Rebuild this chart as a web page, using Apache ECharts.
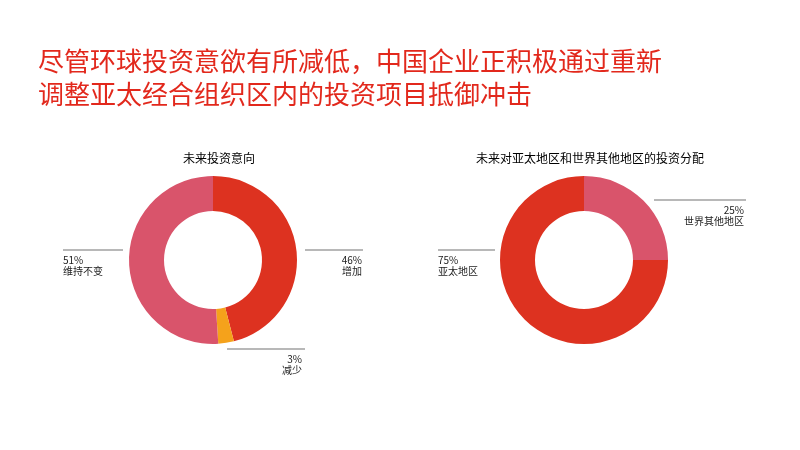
<!DOCTYPE html>
<html><head><meta charset="utf-8">
<script src="https://cdn.jsdelivr.net/npm/echarts@6/dist/echarts.min.js"></script>
<style>html,body{margin:0;padding:0;background:#fff}#c{width:800px;height:450px}</style>
</head><body><div id="c"></div>
<script>
const mainTitle = '尽管环球投资意欲有所减低，中国企业正积极通过重新\n调整亚太经合组织区内的投资项目抵御冲击';
const chart1Title = '未来投资意向';
const chart1Names = ['增加', '减少', '维持不变'];
const chart1Values = [46, 3, 51];
const chart2Title = '未来对亚太地区和世界其他地区的投资分配';
const chart2Names = ['世界其他地区', '亚太地区'];
const chart2Values = [25, 75];

const RED = '#dd3220', PINK = '#d9546b', ORANGE = '#f5a21b';
const chart1Colors = [RED, ORANGE, PINK];
const chart2Colors = [PINK, RED];

// label placements: [textX, textTopY, align, lineX1, lineX2, lineY]
const chart1Labels = [
  [362, 255, 'right', 305, 363, 250],
  [302, 354, 'right', 227, 305, 349],
  [63, 255, 'left', 63, 123, 250]
];
const chart2Labels = [
  [744, 205, 'right', 654, 746, 200],
  [438, 255, 'left', 438, 495, 250]
];

function mk(names, values, colors) {
  return names.map((n, i) => ({ name: n, value: values[i], itemStyle: { color: colors[i] } }));
}
function layoutFn(spec) {
  return function (p) {
    const s = spec[p.dataIndex];
    return {
      x: s[0], y: s[1], align: s[2], verticalAlign: 'top',
      labelLinePoints: [[s[3], s[5]], [(s[3] + s[4]) / 2, s[5]], [s[4], s[5]]]
    };
  };
}
const labelCommon = {
  show: true,
  formatter: '{c}%\n{b}',
  fontSize: 10,
  lineHeight: 11,
  color: '#222',
  fontFamily: 'Noto Sans CJK SC'
};
const lineCommon = { show: true, lineStyle: { color: '#b8b8b8', width: 2 } };

const chart = echarts.init(document.getElementById('c'));
chart.setOption({
  backgroundColor: '#fff',
  animation: false,
  title: [
    { text: mainTitle, left: 33, top: 40,
      textStyle: { fontSize: 26, lineHeight: 33, color: '#e2281c', fontWeight: 'normal', fontFamily: 'Noto Sans CJK SC' } },
    { text: chart1Title, left: 214, top: 147, textAlign: 'center',
      textStyle: { fontSize: 12, color: '#000', fontWeight: 'normal', fontFamily: 'Noto Sans CJK SC' } },
    { text: chart2Title, left: 585, top: 147, textAlign: 'center',
      textStyle: { fontSize: 12, color: '#000', fontWeight: 'normal', fontFamily: 'Noto Sans CJK SC' } }
  ],
  series: [
    { type: 'pie', center: [213, 260], radius: [49, 84], startAngle: 90, clockwise: true,
      avoidLabelOverlap: false, silent: true,
      data: mk(chart1Names, chart1Values, chart1Colors),
      label: labelCommon, labelLine: lineCommon, labelLayout: layoutFn(chart1Labels) },
    { type: 'pie', center: [584, 260], radius: [49, 84], startAngle: 90, clockwise: true,
      avoidLabelOverlap: false, silent: true,
      data: mk(chart2Names, chart2Values, chart2Colors),
      label: labelCommon, labelLine: lineCommon, labelLayout: layoutFn(chart2Labels) }
  ]
});
</script></body></html>
